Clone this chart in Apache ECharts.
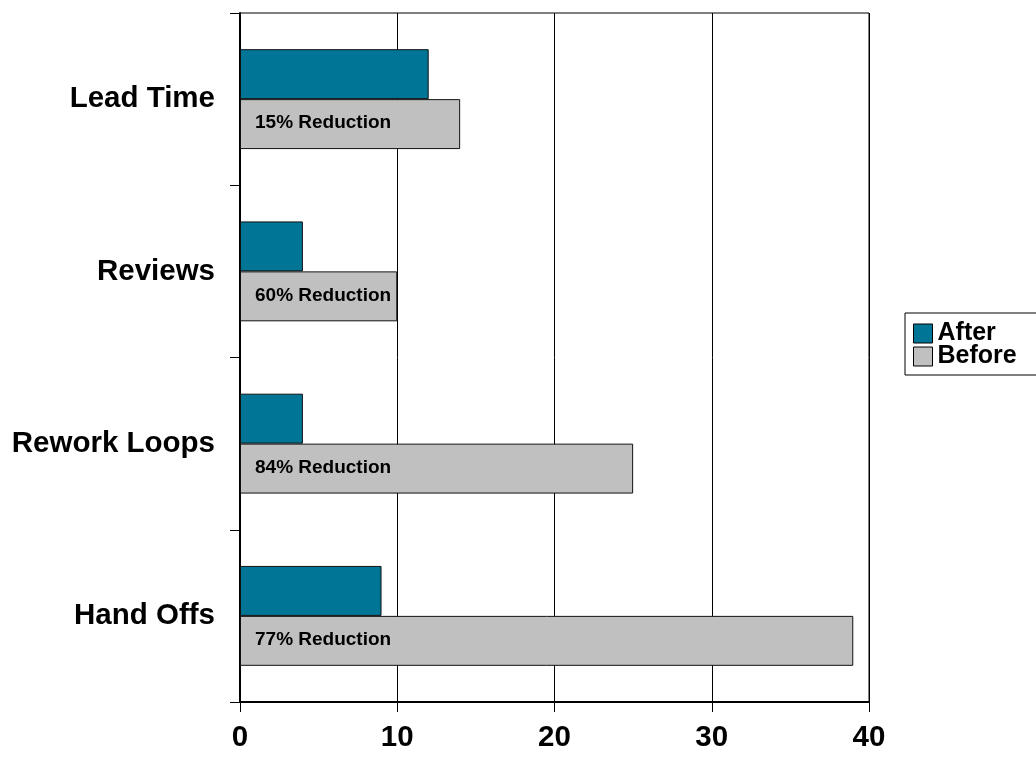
<!DOCTYPE html>
<html>
<head>
<meta charset="utf-8">
<script src="https://cdn.jsdelivr.net/npm/echarts@6/dist/echarts.min.js"></script>
<style>
	html, body { margin: 0; padding: 0; background: #fff; }
	#main-chart { width: 1036px; height: 760px; }
</style>
</head>
<body>
<div id="main-chart"></div>
<script>
// 数据
var categories = ['Lead Time', 'Reviews', 'Rework Loops', 'Hand Offs'];
var afterData = [12, 4, 4, 9];
var beforeData = [14, 10, 25, 39];
var reductionLabels = ['15% Reduction', '60% Reduction', '84% Reduction', '77% Reduction'];
var xTicks = [0, 10, 20, 30, 40];

var fontName = '"Liberation Sans", Arial, sans-serif';

option = {
	backgroundColor: '#fff',
	animation: false,
	grid: {
		left: 240,
		right: 167,
		top: 13,
		bottom: 58,
		show: true,
		borderColor: '#000',
		borderWidth: 1
	},
	legend: {
		orient: 'vertical',
		left: 905,
		top: 313,
		data: ['After', 'Before'],
		icon: 'rect',
		itemWidth: 19,
		itemHeight: 19,
		itemGap: -2,
		padding: [8, 40, 6, 8],
		borderColor: '#000',
		borderWidth: 1,
		textStyle: { fontSize: 25, fontWeight: 'bold', color: '#000', fontFamily: fontName },
		itemStyle: { borderColor: '#000', borderWidth: 1 }
	},
	xAxis: {
		type: 'value',
		min: xTicks[0],
		max: xTicks[xTicks.length - 1],
		interval: 10,
		axisLine: { show: true, lineStyle: { color: '#000', width: 2 } },
		axisTick: { show: true, length: 10, lineStyle: { color: '#000' } },
		axisLabel: { fontSize: 29.5, fontWeight: 'bold', color: '#000', fontFamily: fontName, margin: 21 },
		splitLine: { show: true, lineStyle: { color: '#000', width: 1 } }
	},
	yAxis: {
		type: 'category',
		inverse: true,
		data: categories,
		axisLine: { show: true, lineStyle: { color: '#000', width: 2 } },
		axisTick: { show: true, length: 10, lineStyle: { color: '#000' } },
		axisLabel: { fontSize: 29.5, fontWeight: 'bold', color: '#000', fontFamily: fontName, margin: 25 }
	},
	series: [
		{
			name: 'After',
			type: 'bar',
			data: afterData,
			barCategoryGap: '42%',
			barGap: '0%',
			itemStyle: { color: '#007596', borderColor: '#111', borderWidth: 1 }
		},
		{
			name: 'Before',
			type: 'bar',
			data: beforeData,
			barCategoryGap: '42%',
			barGap: '0%',
			itemStyle: { color: '#c0c0c0', borderColor: '#111', borderWidth: 1 },
			label: {
				show: true,
				position: 'insideLeft',
				distance: 15,
				offset: [0, -1],
				fontSize: 19,
				fontWeight: 'bold',
				color: '#000',
				fontFamily: fontName,
				formatter: function (p) { return reductionLabels[p.dataIndex]; }
			}
		}
	]
};

var myChart = echarts.init(document.getElementById('main-chart'));
myChart.setOption(option);
</script>
</body>
</html>
